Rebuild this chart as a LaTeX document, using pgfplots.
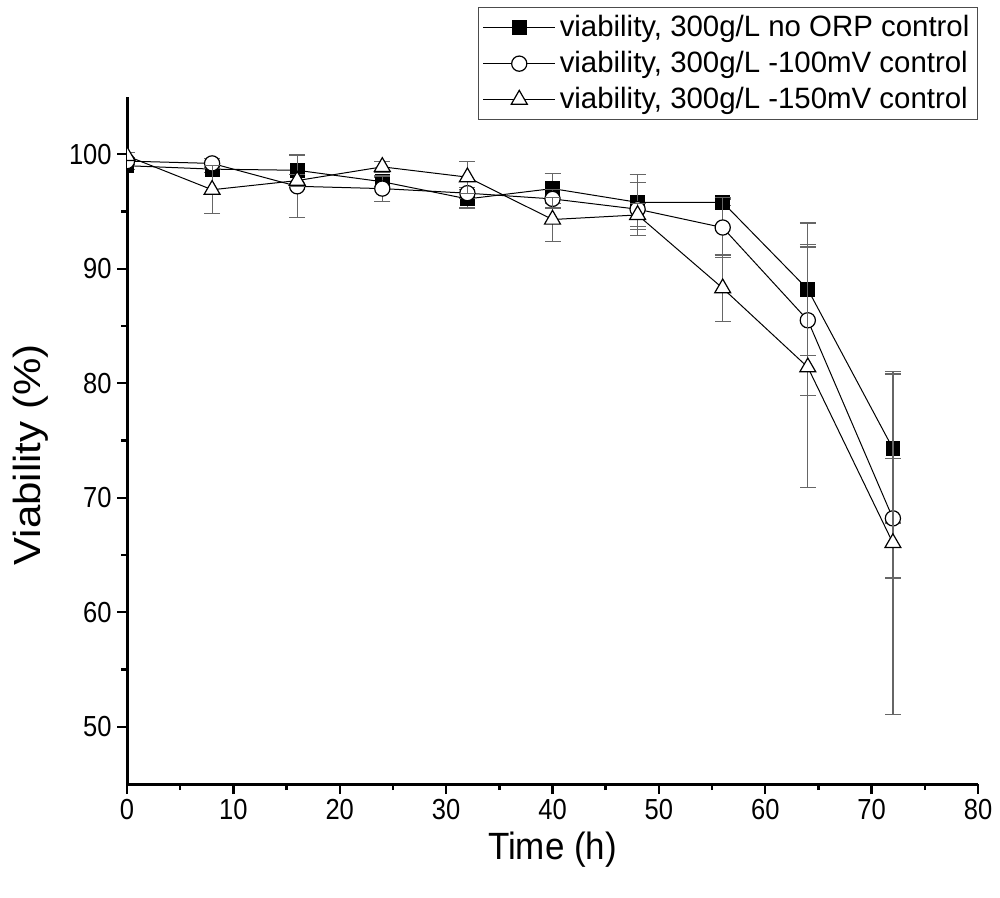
\documentclass[border=0pt]{standalone}
\usepackage{fontspec}
\setmainfont{Liberation Sans}
\newfontfamily\tickfont{Liberation Sans}[FakeStretch=0.88]
\newfontfamily\labfont{Liberation Sans}[FakeStretch=0.92]
\usepackage{pgfplots}
\usepackage{pgfplotstable}
\pgfplotsset{compat=1.18}
\pgfplotstableread{
x y e
0 99.0 0.3
8 98.7 0.3
16 98.6 1.4
24 97.6 0.4
32 96.1 0.8
40 97.0 1.3
48 95.8 2.4
56 95.8 0.3
64 88.2 5.8
72 74.3 6.5
}\tsq
\pgfplotstableread{
x y e
0 99.4 0.3
8 99.2 0.4
16 97.2 2.7
24 97.0 1.1
32 96.6 0.5
40 96.1 0.8
48 95.2 2.3
56 93.6 2.6
64 85.5 6.6
72 68.2 5.2
}\tci
\pgfplotstableread{
x y e
0 99.85 0.3
8 96.9 2.1
16 97.7 0.5
24 98.9 0.5
32 98.0 1.4
40 94.3 1.9
48 94.7 1.0
56 88.3 2.9
64 81.4 10.5
72 66.05 15.0
}\ttr
\begin{document}
\begin{tikzpicture}
\begin{axis}[name=ax,
  scale only axis, width=425.5pt, height=343.5pt,
  xmin=0, xmax=80, ymin=45, ymax=105,
  axis lines*=left,
  axis line style={line width=1.5pt},
  xtick={0,10,...,80}, ytick={50,60,...,100},
  minor xtick={5,15,...,75}, minor ytick={55,65,...,95},
  tick align=outside,
  major tick length=5pt, minor tick length=3pt,
  tick style={line width=1.2pt, black},
  ticklabel style={font=\tickfont\fontsize{14.5}{16}\selectfont, inner sep=2.5pt},
  /pgf/number format/assume math mode=true,
  xlabel={Time (h)},
  ylabel={\scalebox{1}[0.9]{\fontsize{21}{24}\selectfont Viability (\%)}},
  xlabel style={font=\labfont\fontsize{19}{22}\selectfont, at={(axis description cs:0.5,-0.096)}, anchor=center},
  ylabel style={at={(axis description cs:-0.1135,0.479)}, anchor=center},
  clip marker paths=true,
  legend style={at={(1,1.131)}, anchor=north east, draw=black!70, line width=0.6pt,
    font=\fontsize{14.7}{17}\selectfont, inner sep=2pt, row sep=1.8pt},
  legend cell align=left,
  legend image code/.code={\draw[mark repeat=2,mark phase=2,#1] plot coordinates {(0pt,0pt) (18pt,0pt) (36pt,0pt)};},
  every axis plot/.append style={black, line width=0.5pt,
    error bars/error bar style={black!60, line width=0.6pt},
    error bars/error mark options={rotate=90, mark size=4pt, black!60, line width=0.6pt}},
]
\addplot[mark=square*, mark size=3.4pt, mark options={solid, fill=black, draw=black, line width=0.6pt},
  error bars/.cd, y dir=both, y explicit] table[x=x, y=y, y error=e] {\tsq};
\addlegendentry{viability, 300g/L no ORP control}
\addplot[mark=*, mark size=3.8pt, mark options={solid, fill=white, draw=black, line width=0.6pt},
  error bars/.cd, y dir=both, y explicit] table[x=x, y=y, y error=e] {\tci};
\addlegendentry{viability, 300g/L -100mV control}
\addplot[mark=triangle*, mark size=4.6pt, mark options={solid, fill=white, draw=black, line width=0.6pt},
  error bars/.cd, y dir=both, y explicit] table[x=x, y=y, y error=e] {\ttr};
\addlegendentry{viability, 300g/L -150mV control}
\end{axis}
\path ([shift={(-63.5pt,-56.5pt)}]ax.south west) rectangle ([shift={(11pt,48.5pt)}]ax.north east);
\end{tikzpicture}
\end{document}
